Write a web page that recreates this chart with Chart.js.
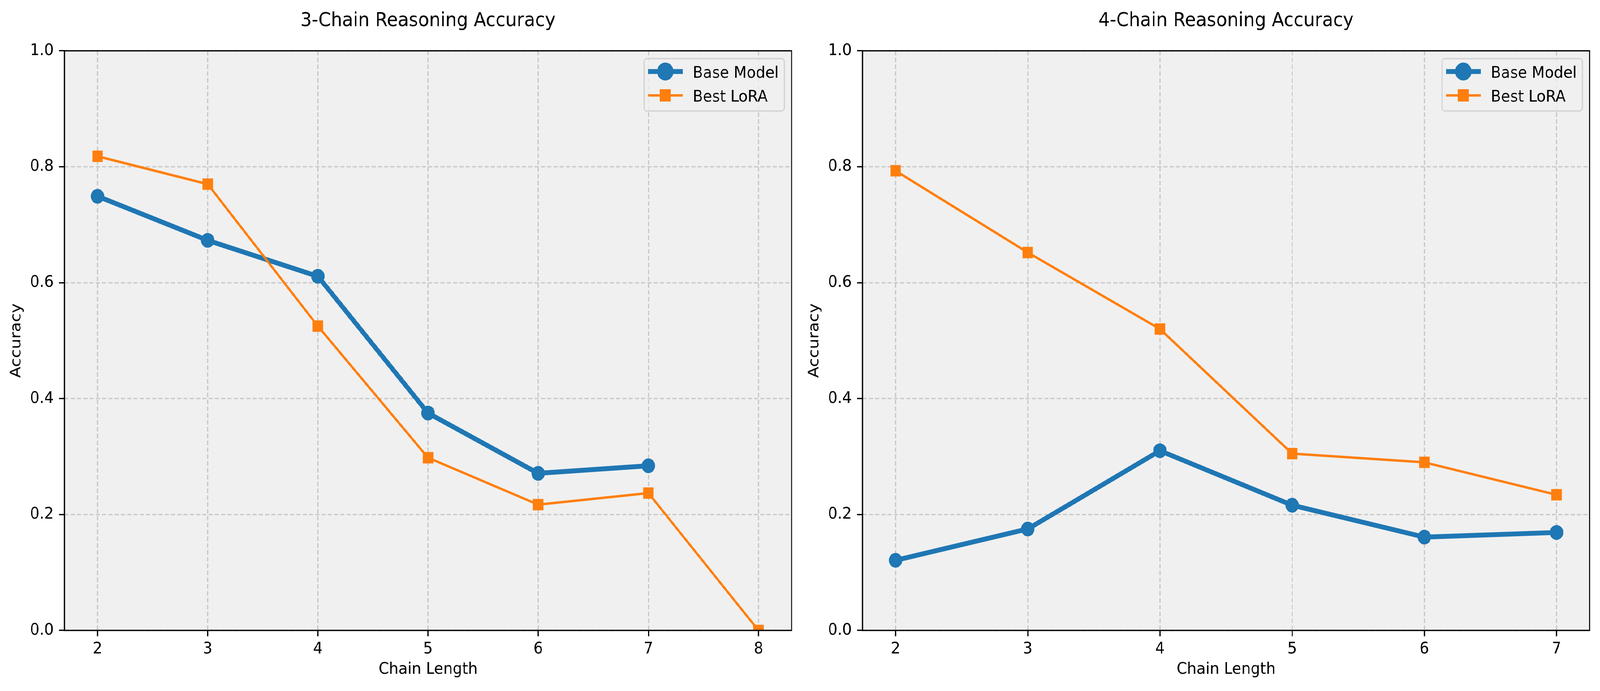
<!DOCTYPE html>
<html>
<head>
<meta charset="utf-8">
<script src="https://cdn.jsdelivr.net/npm/chart.js@4.4.1/dist/chart.umd.min.js"></script>
<style>
  html, body { margin: 0; padding: 0; background: #fff; overflow: hidden; }
  #wrap { position: relative; width: 4467px; height: 1768px; overflow: hidden; transform-origin: 0 0; }
  canvas { position: absolute; top: 0; }
</style>
</head>
<body>
<div id="wrap">
  <canvas id="chart3" width="2233" height="1768" style="left:0px;width:2233px;height:1768px"></canvas>
  <canvas id="chart4" width="2233" height="1768" style="left:2228px;width:2233px;height:1768px"></canvas>
</div>
<script>
// data
const chainLen3 = [2, 3, 4, 5, 6, 7, 8];
const base3 = [0.749, 0.673, 0.611, 0.375, 0.271, 0.284];
const lora3 = [0.818, 0.770, 0.525, 0.298, 0.217, 0.237, 0.0];

const chainLen4 = [2, 3, 4, 5, 6, 7];
const base4 = [0.121, 0.175, 0.310, 0.216, 0.161, 0.169];
const lora4 = [0.793, 0.652, 0.520, 0.305, 0.290, 0.234];

const yTicks = [0, 0.2, 0.4, 0.6, 0.8, 1.0];

const FONT = "'DejaVu Sans', sans-serif";
const BLUE = "#1f77b4";
const ORANGE = "#ff7f0e";
const FACE = "#f0f0f0";

Chart.defaults.font.family = FONT;

// the window can be narrower than the 4467px figure: squeeze to fit
const wrap = document.getElementById("wrap");
const sx = Math.min(1, window.innerWidth / 4467);
const sy = Math.min(1, window.innerHeight / 1768);
wrap.style.transform = `scale(${sx}, ${sy})`;

const toPoints = (xs, ys) => ys.map((y, i) => ({ x: xs[i], y }));

// axes background, spines, title and legend (matplotlib look)
const framePlugin = {
  id: "frame",
  beforeDraw(chart) {
    const { ctx, chartArea: a } = chart;
    ctx.save();
    ctx.fillStyle = FACE;
    ctx.fillRect(a.left, a.top, a.right - a.left, a.bottom - a.top);
    ctx.restore();
  },
  afterDatasetsDraw(chart) {
    const { ctx, chartArea: a } = chart;
    ctx.save();
    ctx.strokeStyle = "#000";
    ctx.lineWidth = 3.3;
    ctx.strokeRect(a.left, a.top, a.right - a.left, a.bottom - a.top);
    ctx.restore();
  },
  afterDraw(chart, args, opts) {
    const { ctx, chartArea: a } = chart;
    ctx.save();

    // title
    ctx.fillStyle = "#000";
    ctx.font = "50px " + FONT;
    ctx.textAlign = "center";
    ctx.textBaseline = "alphabetic";
    ctx.fillText(opts.title, (a.left + a.right) / 2, 67);

    // legend box
    const w = 392, h = 134;
    const bx = a.right - 20 - w, by = a.top + 20;
    ctx.beginPath();
    ctx.roundRect(bx, by, w, h, 8);
    ctx.fillStyle = "rgba(240,240,240,0.8)";
    ctx.fill();
    ctx.lineWidth = 3.3;
    ctx.strokeStyle = "rgba(204,204,204,0.8)";
    ctx.stroke();

    chart.data.datasets.slice().reverse().forEach((ds, i) => {
      const y = by + 33 + i * 61;
      const x1 = bx + 11, x2 = bx + 108, xm = (x1 + x2) / 2;
      ctx.strokeStyle = ds.borderColor;
      ctx.lineWidth = ds.borderWidth;
      ctx.lineCap = "butt";
      ctx.beginPath();
      ctx.moveTo(x1, y);
      ctx.lineTo(x2, y);
      ctx.stroke();
      Chart.helpers.drawPoint(ctx, {
        pointStyle: ds.pointStyle,
        radius: ds.pointRadius,
        borderWidth: ds.pointBorderWidth,
        rotation: 0
      }, xm, y);
      ctx.fillStyle = ds.pointBackgroundColor;
      ctx.strokeStyle = ds.pointBorderColor;
      ctx.lineWidth = ds.pointBorderWidth;
      ctx.fill();
      ctx.stroke();

      ctx.fillStyle = "#000";
      ctx.font = "41.7px " + FONT;
      ctx.textAlign = "left";
      ctx.textBaseline = "alphabetic";
      ctx.fillText(ds.label, bx + 136, y + 16);
    });
    ctx.restore();
  }
};

function makeChart(id, title, xs, base, lora, xMin, xMax) {
  const gridBase = {
    color: "#c8c8c8",
    lineWidth: 3.3,
    tickColor: "#000",
    tickWidth: 3.3,
    tickLength: 15,
    tickBorderDash: [],
    drawTicks: true
  };
  // in v4 the grid-line dash lives under border.dash
  const borderBase = { display: false, dash: [11.5, 6] };
  return new Chart(document.getElementById(id), {
    type: "line",
    data: {
      datasets: [
        {
          label: "Best LoRA",
          data: toPoints(xs, lora),
          borderColor: ORANGE,
          backgroundColor: ORANGE,
          borderWidth: 6.25,
          pointStyle: "rect",
          pointRadius: 17.7,
          pointBorderWidth: 4.2,
          pointBackgroundColor: ORANGE,
          pointBorderColor: ORANGE,
          borderJoinStyle: "round",
          tension: 0,
          clip: 0,
          order: 0
        },
        {
          label: "Base Model",
          data: toPoints(xs, base),
          borderColor: BLUE,
          backgroundColor: BLUE,
          borderWidth: 12.5,
          pointStyle: "circle",
          pointRadius: 16.7,
          pointBorderWidth: 4.2,
          pointBackgroundColor: BLUE,
          pointBorderColor: BLUE,
          borderJoinStyle: "round",
          tension: 0,
          clip: 0,
          order: 1
        }
      ]
    },
    options: {
      responsive: false,
      animation: false,
      devicePixelRatio: 1,
      events: [],
      layout: { padding: { left: 0, right: 23, top: 130, bottom: 0 } },
      plugins: {
        legend: { display: false },
        tooltip: { enabled: false },
        title: { display: false },
        frame: { title }
      },
      scales: {
        x: {
          type: "linear",
          min: xMin,
          max: xMax,
          afterBuildTicks: s => { s.ticks = xs.map(v => ({ value: v })); },
          afterFit: s => { s.height = 155; },
          ticks: {
            color: "#000",
            font: { size: 41.7 },
            padding: 8,
            maxRotation: 0,
            callback: v => String(v)
          },
          grid: gridBase,
          border: borderBase,
          title: {
            display: true,
            text: "Chain Length",
            color: "#000",
            font: { size: 41.7 },
            padding: { top: 0, bottom: 30 }
          }
        },
        y: {
          type: "linear",
          min: 0,
          max: 1,
          afterBuildTicks: s => { s.ticks = yTicks.map(v => ({ value: v })); },
          afterFit: s => { s.width = 180; },
          ticks: {
            color: "#000",
            font: { size: 41.7 },
            padding: 15,
            callback: v => v.toFixed(1)
          },
          grid: gridBase,
          border: borderBase,
          title: {
            display: true,
            text: "Accuracy",
            color: "#000",
            font: { size: 41.7 },
            padding: { top: 21, bottom: 0 }
          }
        }
      }
    },
    plugins: [framePlugin]
  });
}

makeChart("chart3", "3-Chain Reasoning Accuracy", chainLen3, base3, lora3, 1.7, 8.3);
makeChart("chart4", "4-Chain Reasoning Accuracy", chainLen4, base4, lora4, 1.75, 7.25);
</script>
</body>
</html>
